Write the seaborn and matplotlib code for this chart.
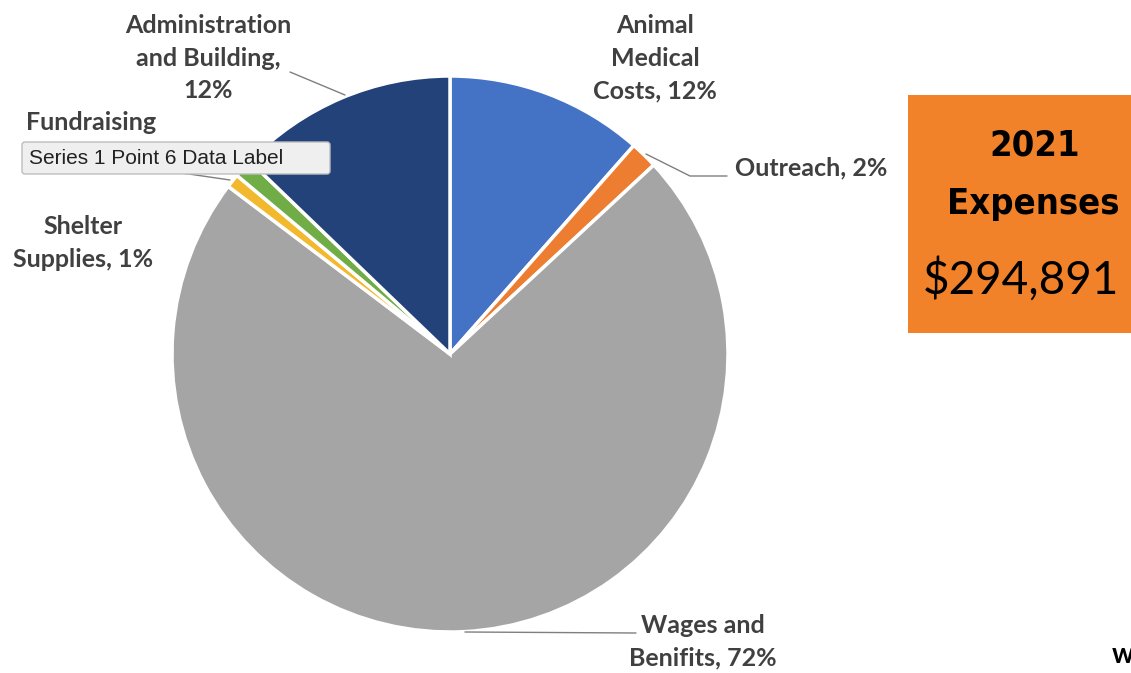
import matplotlib
matplotlib.use("Agg")
import matplotlib.pyplot as plt
import seaborn as sns
from matplotlib import font_manager
from matplotlib.patches import Rectangle, FancyBboxPatch

# expense shares, clockwise from 12 o'clock
categories = ['Animal Medical Costs', 'Outreach', 'Wages and Benifits',
              'Shelter Supplies', 'Fundraising', 'Administration and Building']
shares = [11.5, 1.6, 72.2, 0.8, 1.1, 12.8]
colors = ['#4472C4', '#ED7D31', '#A5A5A5', '#F2B92E', '#70AD47', '#24427A']
label_texts = ['Animal\nMedical\nCosts, 12%', 'Outreach, 2%', 'Wages and\nBenifits, 72%',
               'Shelter\nSupplies, 1%', 'Fundraising', 'Administration\nand Building,\n12%']
total = '$294,891'
year = '2021'

sns.set_theme(style='white')

# pick fonts that are really there
fonts = font_manager.fontManager.ttflist
def has_bold(name):
    return any(f.name == name and (f.weight in ('bold', 700) or str(f.weight) == '700') for f in fonts)

label_family = 'Lato' if has_bold('Lato') else 'Liberation Sans'
plt.rcParams['font.family'] = [label_family, 'DejaVu Sans']

cond = [f.fname for f in fonts
        if ('Condensed-Bold' in f.fname or 'Narrow-Bold' in f.fname or 'CondensedBold' in f.fname)
        and 'Oblique' not in f.fname and 'Italic' not in f.fname]
if cond:
    head_font = font_manager.FontProperties(fname=sorted(cond)[0], size=26)
else:
    head_font = font_manager.FontProperties(family='DejaVu Sans', weight='bold', size=22)

fig = plt.figure(figsize=(11.31, 6.73), dpi=100)
ax = fig.add_axes([0, 0, 1, 1])

# y axis is inverted, so counterclock here reads clockwise on screen
ax.pie(shares, colors=colors, center=(450, 354), radius=278,
       startangle=-90, counterclock=True,
       wedgeprops=dict(edgecolor='white', linewidth=2.5))
ax.set_xlim(0, 1131)
ax.set_ylim(673, 0)
ax.set_aspect('equal')
ax.axis('off')

lab = dict(fontsize=18, fontweight='bold', color='#404040', ha='center', va='center',
           linespacing=1.5)
ax.text(655, 58, label_texts[0], **lab)
ax.text(811, 168, label_texts[1], **lab)
ax.text(703, 642, label_texts[2], **lab)
ax.text(83, 243, label_texts[3], **lab)
ax.text(91, 122, label_texts[4], **lab)
ax.text(208, 58, label_texts[5], **lab)

# leader lines
line = dict(color='#7f7f7f', lw=1)
ax.plot([290, 345], [72, 95], **line)
ax.plot([646, 690, 727], [154, 176, 176], **line)
ax.plot([465, 636], [632, 633], **line)
ax.plot([175, 230], [172, 180], **line)

# hover tooltip left on the chart
ax.add_patch(FancyBboxPatch((22, 142), 308, 32, boxstyle='round,pad=0,rounding_size=3',
                            fc='#EFEFEF', ec='#BDBDBD', lw=1, zorder=5))
ax.text(29, 158, 'Series 1 Point 6 Data Label', fontsize=15, color='#222222',
        family=['Liberation Sans', 'DejaVu Sans'], va='center', ha='left', zorder=6)

# orange total box
ax.add_patch(Rectangle((908, 95), 230, 238, fc='#F28229', ec='none', zorder=3))
ax.text(1035, 146, year, fontproperties=head_font, color='black',
        ha='center', va='center', zorder=4)
ax.text(1033, 204, 'Expenses', fontproperties=head_font, color='black',
        ha='center', va='center', zorder=4)
ax.text(1021, 279, total, fontsize=33, fontweight='normal', color='black',
        ha='center', va='center', zorder=4)

ax.text(1112, 655, 'w', fontsize=20, fontweight='bold', color='black', ha='left', va='center')

fig.savefig('out.png', dpi=100)
